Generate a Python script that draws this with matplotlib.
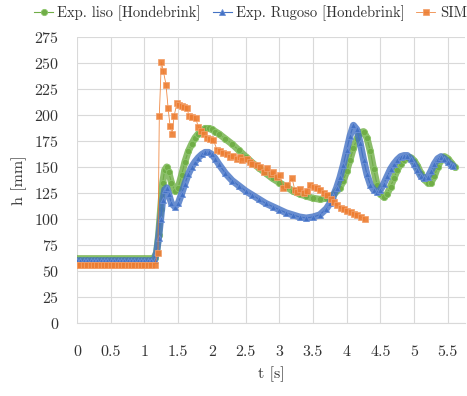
import matplotlib
matplotlib.use("Agg")
import matplotlib.pyplot as plt

plt.rcParams['font.family'] = ['cmr10', 'DejaVu Serif']
plt.rcParams['axes.formatter.use_mathtext'] = True

# Exp. liso [Hondebrink]
t_liso = [0.00, 0.05, 0.10, 0.15, 0.20, 0.25, 0.30, 0.35, 0.40, 0.45, 0.50, 0.55,
          0.60, 0.65, 0.70, 0.75, 0.80, 0.85, 0.90, 0.95, 1.00, 1.05, 1.10, 1.15,
          1.18, 1.21, 1.24, 1.27, 1.30, 1.33, 1.36, 1.40, 1.45, 1.50, 1.55, 1.60,
          1.65, 1.70, 1.75, 1.80, 1.85, 1.90, 1.95, 2.00, 2.05, 2.10, 2.20, 2.30,
          2.40, 2.50, 2.60, 2.70, 2.80, 2.90, 3.00, 3.10, 3.20, 3.30, 3.40, 3.50,
          3.60, 3.70, 3.80, 3.90, 3.95, 4.00, 4.05, 4.10, 4.15, 4.20, 4.25, 4.30,
          4.35, 4.40, 4.45, 4.50, 4.55, 4.60, 4.65, 4.70, 4.75, 4.80, 4.85, 4.90,
          4.95, 5.00, 5.05, 5.10, 5.15, 5.20, 5.25, 5.30, 5.35, 5.40, 5.45, 5.50,
          5.55, 5.60]
h_liso = [62, 62, 62, 62, 62, 62, 62, 62, 62, 62, 62, 62,
          62, 62, 62, 62, 62, 62, 62, 62, 62, 62, 62, 63,
          68, 85, 110, 135, 147, 150, 145, 135, 127, 130, 142, 155,
          165, 172, 178, 182, 185, 187, 187, 186, 184, 182, 177, 172,
          166, 160, 154, 149, 144, 139, 135, 131, 127, 124, 122, 120,
          119, 120, 123, 130, 137, 146, 157, 168, 177, 183, 184, 178,
          165, 148, 133, 124, 121, 124, 131, 139, 147, 153, 157, 159,
          159, 156, 151, 144, 138, 135, 135, 141, 150, 157, 160, 158,
          154, 150]

# Exp. Rugoso [Hondebrink]
t_rug = [0.00, 0.05, 0.10, 0.15, 0.20, 0.25, 0.30, 0.35, 0.40, 0.45, 0.50, 0.55,
         0.60, 0.65, 0.70, 0.75, 0.80, 0.85, 0.90, 0.95, 1.00, 1.05, 1.10, 1.15,
         1.18, 1.21, 1.24, 1.27, 1.30, 1.33, 1.36, 1.40, 1.45, 1.50, 1.55, 1.60,
         1.65, 1.70, 1.75, 1.80, 1.85, 1.90, 1.95, 2.00, 2.05, 2.10, 2.20, 2.30,
         2.40, 2.50, 2.60, 2.70, 2.80, 2.90, 3.00, 3.10, 3.20, 3.30, 3.40, 3.50,
         3.60, 3.70, 3.75, 3.80, 3.85, 3.90, 3.95, 4.00, 4.05, 4.10, 4.15, 4.20,
         4.25, 4.30, 4.35, 4.40, 4.45, 4.50, 4.55, 4.60, 4.65, 4.70, 4.75, 4.80,
         4.85, 4.90, 4.95, 5.00, 5.05, 5.10, 5.15, 5.20, 5.25, 5.30, 5.35, 5.40,
         5.45, 5.50, 5.55, 5.58]
h_rug = [60, 60, 60, 60, 60, 60, 60, 60, 60, 60, 60, 60,
         60, 60, 60, 60, 60, 60, 60, 60, 60, 60, 60, 61,
         68, 82, 100, 118, 128, 130, 124, 115, 112, 115, 124, 134,
         143, 150, 155, 159, 162, 164, 164, 162, 158, 153, 144, 137,
         132, 127, 123, 119, 115, 112, 109, 106, 104, 102, 101, 102,
         104, 110, 115, 122, 130, 140, 152, 166, 180, 190, 186, 173,
         157, 143, 133, 128, 126, 128, 134, 141, 148, 153, 157, 160,
         161, 161, 158, 153, 147, 141, 139, 140, 146, 153, 158, 160,
         158, 155, 152, 151]

# SIM
t_sim = [0.00, 0.05, 0.10, 0.15, 0.20, 0.25, 0.30, 0.35, 0.40, 0.45, 0.50, 0.55,
         0.60, 0.65, 0.70, 0.75, 0.80, 0.85, 0.90, 0.95, 1.00, 1.05, 1.10, 1.15,
         1.20, 1.22, 1.25, 1.28, 1.32, 1.35, 1.38, 1.41, 1.44, 1.48, 1.51, 1.56,
         1.59, 1.63, 1.66, 1.70, 1.76, 1.80, 1.84, 1.88, 1.93, 1.97, 2.02, 2.08,
         2.12, 2.17, 2.22, 2.27, 2.31, 2.37, 2.42, 2.45, 2.52, 2.57, 2.60, 2.67,
         2.72, 2.77, 2.82, 2.87, 2.91, 2.96, 3.01, 3.06, 3.12, 3.19, 3.23, 3.26,
         3.31, 3.36, 3.41, 3.46, 3.51, 3.56, 3.61, 3.66, 3.71, 3.76, 3.81, 3.86,
         3.91, 3.96, 4.01, 4.06, 4.11, 4.16, 4.21, 4.27]
h_sim = [56, 56, 56, 56, 56, 56, 56, 56, 56, 56, 56, 56,
         56, 56, 56, 56, 56, 56, 56, 56, 56, 56, 56, 56,
         67, 199, 251, 242, 229, 207, 189, 182, 199, 211, 210, 209,
         208, 207, 199, 198, 197, 188, 185, 182, 178, 177, 176, 166,
         165, 163, 162, 160, 161, 158, 160, 157, 158, 155, 153, 152,
         150, 145, 149, 143, 145, 140, 142, 130, 133, 139, 128, 126,
         129, 125, 127, 133, 131, 130, 128, 125, 123, 119, 116, 113,
         111, 110, 108, 107, 105, 104, 102, 100]

x_ticks = [0, 0.5, 1, 1.5, 2, 2.5, 3, 3.5, 4, 4.5, 5, 5.5]
x_tick_labels = ['0', '0.5', '1', '1.5', '2', '2.5', '3', '3.5', '4', '4.5', '5', '5.5']
y_ticks = [0, 25, 50, 75, 100, 125, 150, 175, 200, 225, 250, 275]

green = '#70ad47'
blue = '#4472c4'
orange = '#ed7d31'
text_col = '#333333'

fig = plt.figure(figsize=(4.67, 3.96), dpi=100)
ax = fig.add_axes([0.165, 0.184, 0.83, 0.723])

# thick band under the dense experimental markers
ax.plot(t_liso, h_liso, color=green, lw=5, alpha=0.8, solid_capstyle='round', zorder=2)
ax.plot(t_rug, h_rug, color=blue, lw=5, alpha=0.8, solid_capstyle='round', zorder=3)

l1, = ax.plot(t_liso, h_liso, color=green, lw=0.8, marker='o', ms=4.5,
              mfc=green, mec='#8cc66a', mew=0.6, zorder=2, label='Exp. liso [Hondebrink]')
l2, = ax.plot(t_rug, h_rug, color=blue, lw=0.8, marker='^', ms=4.5,
              mfc=blue, mec='#6a8fd6', mew=0.6, zorder=3, label='Exp. Rugoso [Hondebrink]')
l3, = ax.plot(t_sim, h_sim, color=orange, lw=0.6, marker='s', ms=5,
              mfc=orange, mec='#f3a06a', mew=0.6, alpha=0.9, zorder=4, label='SIM')

ax.set_xlim(0, 5.75)
ax.set_ylim(0, 275)
ax.set_xticks(x_ticks)
ax.set_xticklabels(x_tick_labels)
ax.set_yticks(y_ticks)
ax.tick_params(length=0, labelsize=11.5, colors=text_col)
ax.tick_params(axis='x', pad=16)
ax.tick_params(axis='y', pad=13)
ax.grid(True, color='#d9d9d9', lw=0.8)
ax.set_axisbelow(True)
for s in ax.spines.values():
    s.set_visible(False)
ax.spines['bottom'].set_visible(True)
ax.spines['bottom'].set_color('#d9d9d9')

ax.set_xlabel('t [s]', fontsize=11.5, color=text_col, labelpad=5)
ax.set_ylabel('h [mm]', fontsize=11.5, color=text_col, labelpad=5)

fig.legend(handles=[l1, l2, l3], loc='upper left', bbox_to_anchor=(0.045, 1.02),
           ncol=3, frameon=False, fontsize=10.5, handlelength=1.3,
           columnspacing=0.8, handletextpad=0.3, labelcolor=text_col)

fig.savefig('out.png', dpi=100)
